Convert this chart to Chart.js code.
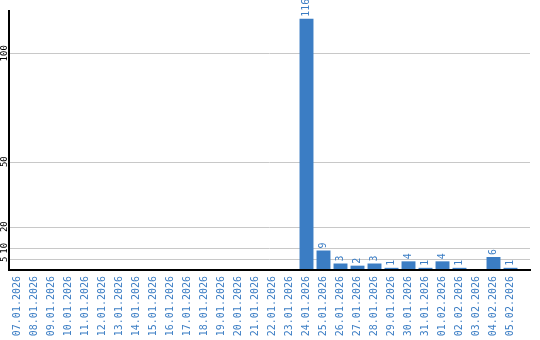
<!DOCTYPE html>
<html>
<head>
<meta charset="utf-8">
<script src="https://cdn.jsdelivr.net/npm/chart.js@4/dist/chart.umd.min.js"></script>
<style>
  html, body { margin: 0; padding: 0; background: #fff; }
  #wrap { width: 540px; height: 340px; }
</style>
</head>
<body>
<div id="wrap"><canvas id="basic-chart" width="540" height="340"></canvas></div>
<script>
// dates shown on the x axis
var dates = ['07.01.2026','08.01.2026','09.01.2026','10.01.2026','11.01.2026','12.01.2026',
    '13.01.2026','14.01.2026','15.01.2026','16.01.2026','17.01.2026','18.01.2026','19.01.2026',
    '20.01.2026','21.01.2026','22.01.2026','23.01.2026','24.01.2026','25.01.2026','26.01.2026',
    '27.01.2026','28.01.2026','29.01.2026','30.01.2026','31.01.2026','01.02.2026','02.02.2026',
    '03.02.2026','04.02.2026','05.02.2026'];
// count per day
var counts = [0,0,0,0,0,0,0,0,0,0,0,0,0,0,0,0,0,116,9,3,2,3,1,4,1,4,1,0,6,1];
// y tick labels
var yTicks = [5, 10, 20, 50, 100];
var yMax = 120;

var blue = '#3b7dc4';
var monoFont = '"DejaVu Sans Mono", monospace';

// gridlines, rotated y labels + axis line running a bit past the last bar
var gridPlugin = {
    id: 'grid',
    beforeDatasetsDraw: function(chart){
        var ctx = chart.ctx, a = chart.chartArea, y = chart.scales.y;
        var right = a.right + 11;
        ctx.save();
        ctx.strokeStyle = '#c8c8c8';
        ctx.lineWidth = 1;
        yTicks.forEach(function(t){
            var py = Math.round(y.getPixelForValue(t)) + 0.5;
            ctx.beginPath();
            ctx.moveTo(a.left, py);
            ctx.lineTo(right, py);
            ctx.stroke();
        });
        ctx.fillStyle = '#000';
        ctx.font = '9px ' + monoFont;
        ctx.textAlign = 'center';
        ctx.textBaseline = 'middle';
        yTicks.forEach(function(t){
            ctx.save();
            ctx.translate(4.5, y.getPixelForValue(t));
            ctx.rotate(-Math.PI / 2);
            ctx.fillText(String(t), 0, 0);
            ctx.restore();
        });
        ctx.restore();
    },
    afterDatasetsDraw: function(chart){
        var ctx = chart.ctx, a = chart.chartArea;
        ctx.save();
        ctx.strokeStyle = '#000';
        ctx.lineWidth = 2;
        ctx.beginPath();
        ctx.moveTo(a.left, a.top);
        ctx.lineTo(a.left, a.bottom);
        ctx.lineTo(a.right + 12, a.bottom);
        ctx.stroke();
        ctx.restore();
    }
};

// value labels, rotated, above each bar
var labelPlugin = {
    id: 'barLabels',
    afterDatasetsDraw: function(chart){
        var ctx = chart.ctx;
        var meta = chart.getDatasetMeta(0);
        ctx.save();
        ctx.fillStyle = blue;
        ctx.font = '10px ' + monoFont;
        ctx.textAlign = 'left';
        ctx.textBaseline = 'middle';
        meta.data.forEach(function(bar, i){
            if (!counts[i]) return;
            ctx.save();
            ctx.translate(bar.x, bar.y - 2);
            ctx.rotate(-Math.PI / 2);
            ctx.fillText(String(counts[i]), 0, 0);
            ctx.restore();
        });
        ctx.restore();
    }
};

var ctx = document.getElementById('basic-chart').getContext('2d');
var chart = new Chart(ctx, {
    type: 'bar',
    data: {
        labels: dates,
        datasets: [{
            data: counts,
            backgroundColor: blue,
            borderWidth: 0,
            barPercentage: 0.82,
            categoryPercentage: 1
        }]
    },
    options: {
        responsive: false,
        animation: false,
        layout: { padding: { top: 10, right: 21, left: 0, bottom: 0 } },
        plugins: { legend: { display: false }, tooltip: { enabled: false } },
        scales: {
            x: {
                offset: true,
                grid: { display: false, drawTicks: false },
                border: { display: false },
                ticks: {
                    color: blue,
                    font: { family: monoFont, size: 10 },
                    minRotation: 90,
                    maxRotation: 90,
                    autoSkip: false,
                    padding: 6
                },
                afterFit: function(s){ s.height = 70; }
            },
            y: {
                min: 0,
                max: yMax,
                grid: { display: false, drawTicks: false },
                border: { display: false },
                ticks: { display: false },
                afterBuildTicks: function(s){
                    s.ticks = yTicks.map(function(v){ return { value: v }; });
                },
                afterFit: function(s){ s.width = 9; }
            }
        }
    },
    plugins: [gridPlugin, labelPlugin]
});
</script>
</body>
</html>
